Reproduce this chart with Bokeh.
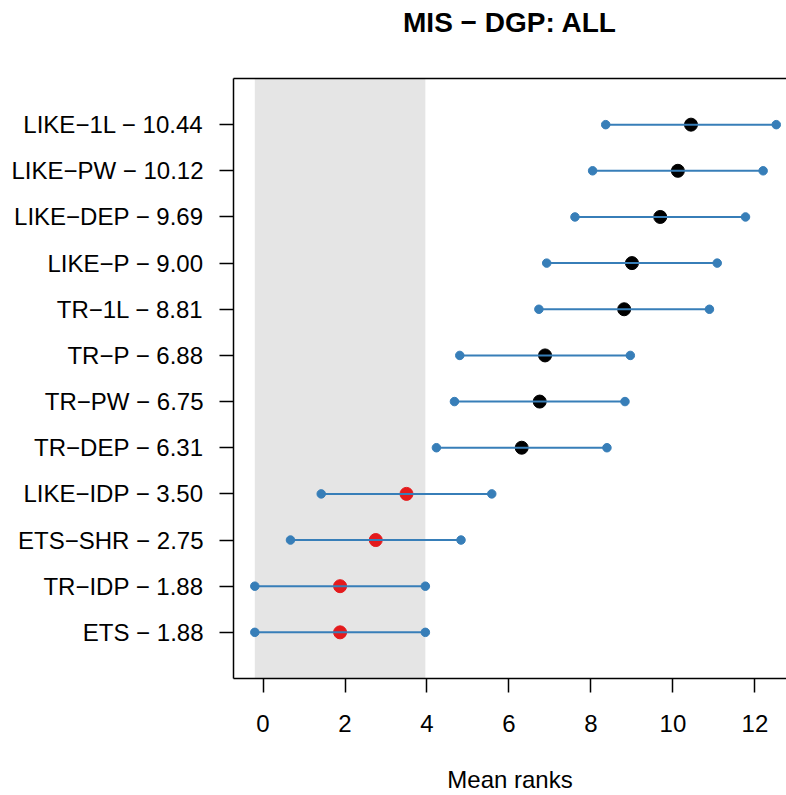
from bokeh.plotting import figure
from bokeh.models import FixedTicker, BoxAnnotation, Range1d, LinearAxis
from bokeh.embed import file_html
from bokeh.resources import INLINE

# Methods ordered from best (bottom) to worst (top)
methods = ["ETS", "TR−IDP", "ETS−SHR", "LIKE−IDP", "TR−DEP", "TR−PW", "TR−P",
           "TR−1L", "LIKE−P", "LIKE−DEP", "LIKE−PW", "LIKE−1L"]
mean_ranks = [1.88, 1.88, 2.75, 3.50, 6.31, 6.75, 6.88, 8.81, 9.00, 9.69, 10.12, 10.44]
lower = [-0.20, -0.20, 0.67, 1.42, 4.23, 4.67, 4.80, 6.73, 6.92, 7.61, 8.04, 8.36]
upper = [3.96, 3.96, 4.83, 5.58, 8.39, 8.83, 8.96, 10.89, 11.08, 11.77, 12.20, 12.52]
x_ticks = [0, 2, 4, 6, 8, 10, 12]
title_text = "MIS − DGP: ALL"
xlabel_text = "Mean ranks"

FONT = "Liberation Sans"
BLUE = "#377EB8"
RED = "#E41A1C"

ypos = list(range(1, len(methods) + 1))
labels = {y: f"{m} − {v:.2f}" for y, m, v in zip(ypos, methods, mean_ranks)}
best_upper = upper[0]
colors = [RED if v <= best_upper else "black" for v in mean_ranks]

p = figure(width=786, height=795, output_backend="svg", toolbar_location=None,
           x_range=Range1d(-0.72, 12.77), y_range=Range1d(0, 13),
           min_border_left=233, min_border_right=0, min_border_top=78,
           min_border_bottom=117)
p.grid.visible = False
p.outline_line_color = None
p.background_fill_color = "white"
p.border_fill_color = "white"

band = BoxAnnotation(left=lower[0], right=upper[0], fill_color="#E5E5E5",
                     fill_alpha=1.0, line_alpha=0, level="underlay")
p.add_layout(band)

p.scatter(mean_ranks, ypos, size=13, color=colors)
p.segment(lower, ypos, upper, ypos, line_color=BLUE, line_width=2)
p.scatter(lower + upper, ypos + ypos, size=8.5, color=BLUE)

p.xaxis.ticker = FixedTicker(ticks=x_ticks)
p.yaxis.ticker = FixedTicker(ticks=ypos)
p.yaxis.major_label_overrides = labels
for ax in (p.xaxis[0], p.yaxis[0]):
    ax.axis_line_color = "black"
    ax.axis_line_width = 1.5
    ax.major_tick_line_width = 1.5
    ax.major_tick_out = 14
    ax.major_tick_in = 0
    ax.minor_tick_line_color = None
    ax.major_label_text_font = FONT
    ax.major_label_text_font_size = "24px"
    ax.major_label_text_color = "black"
p.xaxis.major_label_standoff = 22
p.yaxis.major_label_standoff = 16
p.xaxis.axis_label = xlabel_text
p.xaxis.axis_label_text_font = FONT
p.xaxis.axis_label_text_font_size = "24px"
p.xaxis.axis_label_text_font_style = "normal"
p.xaxis.axis_label_text_color = "black"
p.xaxis.axis_label_standoff = 31

# Top border of the box, carrying the chart title
top = LinearAxis(ticker=FixedTicker(ticks=[]), axis_label=title_text)
top.axis_line_color = "black"
top.axis_line_width = 1.5
top.major_tick_out = 0
top.major_tick_in = 0
top.minor_tick_line_color = None
top.major_tick_line_color = None
top.major_label_standoff = 0
top.major_label_text_font_size = "0px"
top.axis_label_text_font = FONT
top.axis_label_text_font_size = "28px"
top.axis_label_text_font_style = "bold"
top.axis_label_text_color = "black"
top.axis_label_standoff = 41
p.add_layout(top, "above")

open("out.html", "w").write(file_html(p, INLINE))
